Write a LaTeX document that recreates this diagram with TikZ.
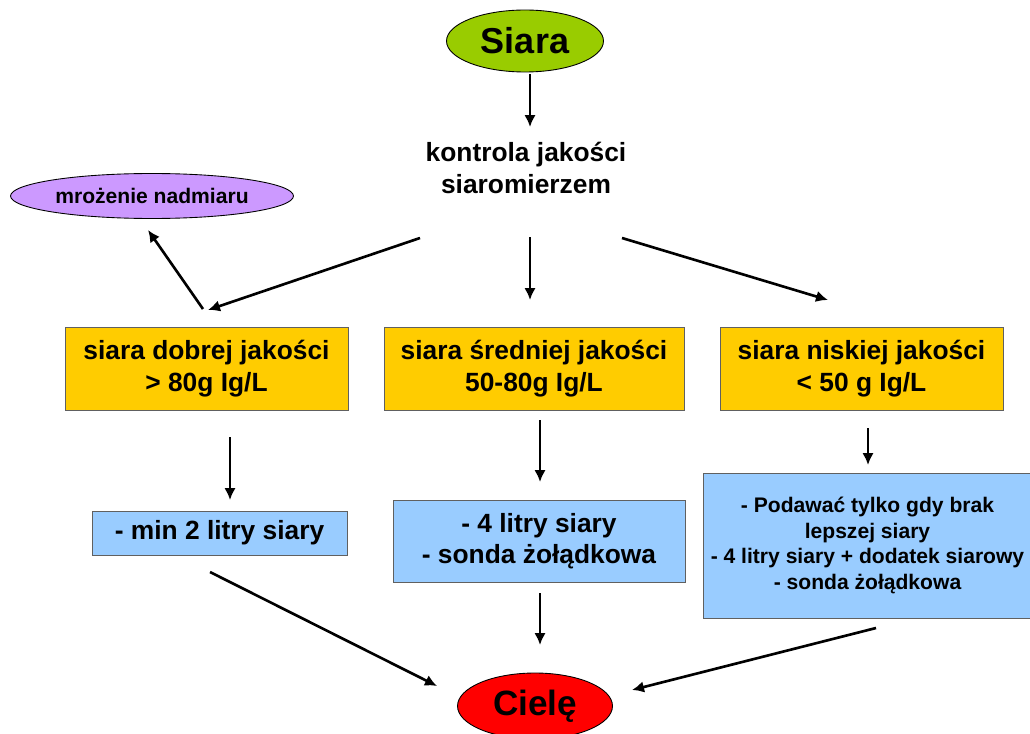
\documentclass[tikz,border=0pt]{standalone}
\usepackage{fontspec}
\setmainfont{Liberation Sans}
\usetikzlibrary{shapes.geometric,arrows.meta}

\definecolor{siaragreen}{HTML}{99CC00}
\definecolor{frostviolet}{HTML}{CC99FF}
\definecolor{gradeyellow}{HTML}{FFCC00}
\definecolor{doseblue}{HTML}{99CCFF}
\definecolor{calfred}{HTML}{FF0000}

\tikzset{
  box/.style={draw=gray!75!black, line width=0.5pt, rectangle, align=center, inner sep=0pt,
    font=\bfseries\fontsize{15}{18}\selectfont},
  oval/.style={draw=black, line width=0.5pt, ellipse, inner sep=0pt, align=center},
  arrow/.style={-{Latex[length=2.4mm,width=2.3mm]}, line width=1.5pt}
}

\begin{document}
\begin{tikzpicture}[x=0.02cm,y=-0.02cm]
\useasboundingbox (0,0) rectangle (1030,733);

\node (siara) [oval, fill=siaragreen, minimum width=3.14cm, minimum height=1.24cm,
  font=\bfseries\fontsize{20.5}{24}\selectfont] at (525,41) {Siara};
\node (kontrola) [align=center, font=\bfseries\fontsize{15}{18}\selectfont] at (526,168) {kontrola jakości\\ siaromierzem};
\node (mrozenie) [oval, fill=frostviolet, minimum width=5.66cm, minimum height=0.9cm,
  font=\bfseries\fontsize{12}{14}\selectfont] at (152,196) {mrożenie nadmiaru};

\node (dobra) [box, fill=gradeyellow, minimum width=5.66cm, minimum height=1.66cm] at (206.5,368.5) {siara dobrej jakości\\ > 80g Ig/L};
\node (srednia) [box, fill=gradeyellow, minimum width=6cm, minimum height=1.66cm] at (534,368.5) {siara średniej jakości\\ 50-80g Ig/L};
\node (niska) [box, fill=gradeyellow, minimum width=5.66cm, minimum height=1.66cm] at (861.5,368.5) {siara niskiej jakości\\ < 50 g Ig/L};

\node (dawka1) [box, fill=doseblue, minimum width=5.1cm, minimum height=0.88cm] at (219.5,533) {- min 2 litry siary};
\node (dawka2) [box, fill=doseblue, minimum width=5.84cm, minimum height=1.64cm] at (539,541) {- 4 litry siary\\ - sonda żołądkowa};
\node (dawka3) [box, fill=doseblue, minimum width=6.58cm, minimum height=2.9cm,
  font=\bfseries\fontsize{12}{14.7}\selectfont] at (867.5,545.5) {- Podawać tylko gdy brak\\ lepszej siary\\ - 4 litry siary + dodatek siarowy\\ - sonda żołądkowa};

\node (ciele) [oval, fill=calfred, minimum width=3.1cm, minimum height=1.32cm,
  font=\bfseries\fontsize{20}{24}\selectfont] at (535,706) {Cielę};

% arrow ends
\coordinate (siara-out) at (530,74);
\coordinate (kontrola-in) at (530,127);
\coordinate (kontrola-l) at (420,238);
\coordinate (kontrola-m) at (530,237);
\coordinate (kontrola-r) at (622,238);
\coordinate (dobra-in) at (208,310);
\coordinate (srednia-in) at (530,300);
\coordinate (niska-in) at (828,300);
\coordinate (dobra-up) at (203,309);
\coordinate (mrozenie-in) at (148,230);
\coordinate (dobra-out) at (230,437);
\coordinate (srednia-out) at (540,420);
\coordinate (niska-out) at (868,428);
\coordinate (dawka1-in) at (230,500);
\coordinate (dawka2-in) at (540,482);
\coordinate (dawka3-in) at (868,465);
\coordinate (dawka1-out) at (210,572);
\coordinate (dawka2-out) at (540,593);
\coordinate (dawka3-out) at (876,628);
\coordinate (ciele-l) at (437,686);
\coordinate (ciele-m) at (540,645);
\coordinate (ciele-r) at (632,690);

% Arrows
\draw[arrow] (siara-out) -- (kontrola-in);
\draw[arrow] (kontrola-l) -- (dobra-in);
\draw[arrow] (kontrola-m) -- (srednia-in);
\draw[arrow] (kontrola-r) -- (niska-in);
\draw[arrow] (dobra-up) -- (mrozenie-in);
\draw[arrow] (dobra-out) -- (dawka1-in);
\draw[arrow] (srednia-out) -- (dawka2-in);
\draw[arrow] (niska-out) -- (dawka3-in);
\draw[arrow] (dawka1-out) -- (ciele-l);
\draw[arrow] (dawka2-out) -- (ciele-m);
\draw[arrow] (dawka3-out) -- (ciele-r);
\end{tikzpicture}
\end{document}
